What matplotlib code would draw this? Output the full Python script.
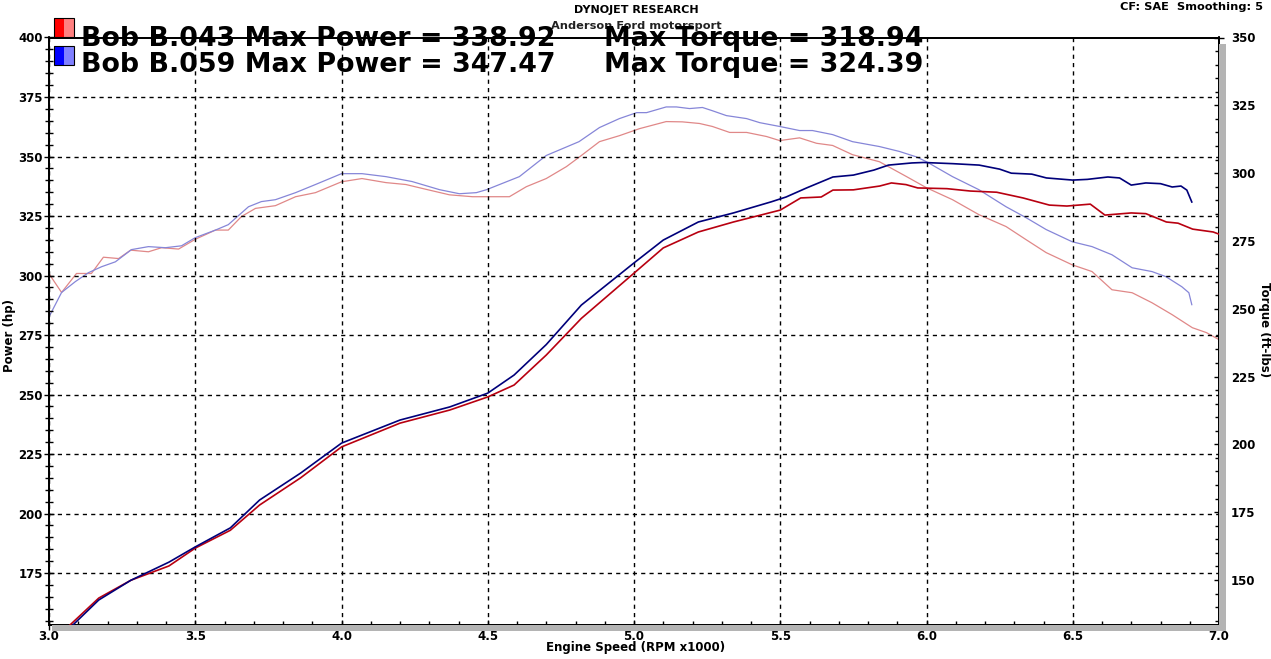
import matplotlib
matplotlib.use("Agg")
import matplotlib.pyplot as plt
from matplotlib.patches import Rectangle
from matplotlib.ticker import MultipleLocator, FormatStrFormatter

# Run 1: Bob B.043 (red), Run 2: Bob B.059 (blue)
run_names = ["Bob B.043", "Bob B.059"]
max_power = [338.92, 347.47]
max_torque = [318.94, 324.39]

red_power_rpm = [3.07, 3.17, 3.28, 3.41, 3.5, 3.62, 3.72, 3.86, 4.0, 4.2, 4.37, 4.5, 4.59, 4.7,
                 4.82, 5.0, 5.1, 5.22, 5.34, 5.5, 5.57, 5.64, 5.68, 5.75, 5.84, 5.88, 5.93, 5.97,
                 6.07, 6.15, 6.24, 6.33, 6.42, 6.48, 6.56, 6.61, 6.7, 6.75, 6.82, 6.86, 6.91, 6.98, 7.0]
red_power = [153, 164.5, 172, 178, 185.5, 193, 203.6, 215, 228, 238, 243.5, 249, 254, 266.6,
             282, 301, 311.6, 318.3, 322.5, 327.5, 332.6, 333, 335.9, 336, 337.6, 338.9, 338.2, 336.8,
             336.5, 335.5, 335, 332.6, 329.6, 329.2, 330, 325.4, 326.3, 326, 322.5, 322, 319.5, 318.3, 317.4]

blue_power_rpm = [3.08, 3.17, 3.28, 3.41, 3.5, 3.62, 3.72, 3.86, 4.0, 4.2, 4.37, 4.5, 4.59, 4.7,
                  4.82, 5.0, 5.1, 5.22, 5.34, 5.47, 5.52, 5.59, 5.68, 5.75, 5.82, 5.87, 5.95, 5.99,
                  6.09, 6.18, 6.25, 6.29, 6.36, 6.41, 6.5, 6.55, 6.62, 6.66, 6.7, 6.75, 6.8, 6.84,
                  6.87, 6.89, 6.907]
blue_power = [153, 163.7, 172, 179.6, 186, 194, 205.7, 217, 229.6, 239.3, 244.8, 250.6, 258.2, 271,
              287.6, 305.3, 314.9, 322.5, 326.3, 331, 333, 336.8, 341.4, 342.2, 344.3, 346.4, 347.3, 347.5,
              347, 346.4, 344.7, 343, 342.6, 341, 340.1, 340.4, 341.4, 341, 338, 338.9, 338.6, 337.2,
              337.6, 335.9, 330.9]

red_torque_rpm = [3.0, 3.043, 3.094, 3.145, 3.186, 3.238, 3.279, 3.34, 3.385, 3.443, 3.5, 3.569, 3.613,
                  3.658, 3.706, 3.774, 3.843, 3.911, 4.0, 4.07, 4.152, 4.22, 4.29, 4.369, 4.448, 4.574,
                  4.632, 4.7, 4.769, 4.814, 4.882, 4.95, 5.019, 5.11, 5.165, 5.224, 5.268, 5.327, 5.385,
                  5.453, 5.498, 5.566, 5.624, 5.679, 5.747, 5.839, 5.932, 6.0, 6.089, 6.179, 6.272,
                  6.34, 6.409, 6.498, 6.566, 6.634, 6.703, 6.771, 6.84, 6.909, 6.957, 7.0]
red_torque = [262.9, 256, 263, 263, 269, 268.5, 271.6, 271, 272.5, 272, 275.6, 279, 279,
              284, 287, 288, 291.3, 292.8, 296.8, 298, 296.5, 295.8, 294, 292, 291.3, 291.3,
              295, 298, 302.4, 306, 311.6, 313.8, 316.4, 319, 318.9, 318.3, 317.2, 315, 315,
              313.5, 312, 313, 311, 310.2, 306.8, 304.2, 298.7, 294.6, 290.2, 284.7, 280.3,
              275.5, 270.7, 266.2, 263.7, 257, 255.9, 252.2, 247.8, 243, 241.2, 238.6]

blue_torque_rpm = [3.0, 3.043, 3.09, 3.135, 3.18, 3.227, 3.282, 3.34, 3.398, 3.453, 3.5, 3.569, 3.613,
                   3.682, 3.726, 3.774, 3.843, 3.911, 4.0, 4.07, 4.152, 4.241, 4.335, 4.403, 4.461,
                   4.496, 4.608, 4.7, 4.812, 4.882, 4.95, 5.009, 5.043, 5.11, 5.145, 5.19, 5.234,
                   5.268, 5.316, 5.385, 5.43, 5.498, 5.566, 5.61, 5.679, 5.747, 5.839, 5.907, 5.965,
                   6.0, 6.089, 6.179, 6.272, 6.34, 6.409, 6.498, 6.566, 6.634, 6.703, 6.771, 6.819,
                   6.873, 6.897, 6.907]
blue_torque = [247, 256, 260, 263.3, 265.5, 267.3, 271.8, 272.9, 272.5, 273.2, 276.2, 279, 281,
               287.6, 289.5, 290.2, 292.8, 295.8, 299.8, 299.8, 298.7, 296.9, 293.9, 292.4, 292.8,
               293.9, 298.7, 306.5, 311.6, 316.8, 320.1, 322.3, 322.3, 324.4, 324.4, 323.8, 324.2,
               323, 321.2, 320.1, 318.6, 317.2, 315.7, 315.7, 314.2, 311.6, 309.8, 308, 306,
               304.2, 298.7, 293.9, 287.6, 283.6, 279.2, 274.7, 272.9, 269.9, 265.1, 263.7, 261.8,
               258.1, 255.9, 251.5]

W, H = 1271, 659


def fx(px):
    return px / W


def fy(py):
    return 1 - py / H


fig = plt.figure(figsize=(12.71, 6.59), dpi=100)
fig.patch.set_facecolor("white")

# shadow bands under / right of plot frame
fig.patches.append(Rectangle((fx(52), fy(631)), fx(1225) - fx(52), fy(625) - fy(631),
                             transform=fig.transFigure, facecolor="#b4b4b4", edgecolor="none"))
fig.patches.append(Rectangle((fx(1219), fy(631)), fx(1226) - fx(1219), fy(44) - fy(631),
                             transform=fig.transFigure, facecolor="#b4b4b4", edgecolor="none"))

ax = fig.add_axes([fx(49), fy(625), fx(1219) - fx(49), fy(37.5) - fy(625)])
ax2 = ax.twinx()

ax.set_xlim(3.0, 7.0)
ax.set_ylim(153.2, 400)
ax2.set_ylim(133.4, 350)

ax.xaxis.set_major_locator(MultipleLocator(0.5))
ax.xaxis.set_minor_locator(MultipleLocator(0.1))
ax.xaxis.set_major_formatter(FormatStrFormatter("%.1f"))
ax.yaxis.set_major_locator(MultipleLocator(25))
ax.yaxis.set_minor_locator(MultipleLocator(5))
ax2.yaxis.set_major_locator(MultipleLocator(25))
ax2.yaxis.set_minor_locator(MultipleLocator(5))

ax.grid(True, which="major", color="black", linestyle=(0, (3, 3)), linewidth=1)
ax.set_axisbelow(True)

for a in (ax, ax2):
    a.tick_params(which="both", direction="inout", color="black", width=1)
    a.tick_params(which="major", length=7)
    a.tick_params(which="minor", length=6)
    for s in a.spines.values():
        s.set_color("black")
        s.set_linewidth(1.3)

ax.tick_params(axis="x", pad=0, labelsize=8.5)
ax.tick_params(axis="y", pad=1, labelsize=8.5)
ax2.tick_params(axis="y", pad=5, labelsize=8.5)
for lab in ax.get_xticklabels() + ax.get_yticklabels() + ax2.get_yticklabels():
    lab.set_fontweight("bold")

ax2.plot(red_torque_rpm, red_torque, color="#e08888", linewidth=0.9)
ax2.plot(blue_torque_rpm, blue_torque, color="#8686d8", linewidth=0.9)
ax.plot(red_power_rpm, red_power, color="#b80010", linewidth=1.2, zorder=3)
ax.plot(blue_power_rpm, blue_power, color="#00007a", linewidth=1.2, zorder=3)
ax.set_zorder(ax2.get_zorder() + 1)
ax.patch.set_visible(False)

fig.text(fx(636), fy(647), "Engine Speed (RPM x1000)", ha="center", va="center",
         fontsize=8.5, fontweight="bold")
fig.text(fx(10), fy(335), "Power (hp)", ha="center", va="center", rotation=90,
         fontsize=8.5, fontweight="bold")
fig.text(fx(1264), fy(330), "Torque (ft-lbs)", ha="center", va="center", rotation=-90,
         fontsize=8.5, fontweight="bold")

fig.text(fx(636), fy(10), "DYNOJET RESEARCH", ha="center", va="center", fontsize=8, fontweight="bold")
fig.text(fx(636), fy(26), "Anderson Ford motorsport", ha="center", va="center", fontsize=8.2,
         fontweight="bold", color="#222222")
fig.text(fx(1263), fy(7), "CF: SAE  Smoothing: 5", ha="right", va="center", fontsize=8.2, fontweight="bold")

# legend blocks
dark = ["#ff0000", "#0000ff"]
light = ["#ff8080", "#8080ff"]
box_top = [18, 46]
base = [45.5, 72.5]
for i in range(2):
    y0 = box_top[i]
    fig.patches.append(Rectangle((fx(54), fy(y0 + 19)), fx(64) - fx(54), fy(y0) - fy(y0 + 19),
                                 transform=fig.transFigure, facecolor=dark[i], edgecolor="none"))
    fig.patches.append(Rectangle((fx(64), fy(y0 + 19)), fx(74) - fx(64), fy(y0) - fy(y0 + 19),
                                 transform=fig.transFigure, facecolor=light[i], edgecolor="none"))
    fig.patches.append(Rectangle((fx(54), fy(y0 + 19)), fx(74) - fx(54), fy(y0) - fy(y0 + 19),
                                 transform=fig.transFigure, facecolor="none", edgecolor="black",
                                 linewidth=0.8))
    fig.text(fx(81), fy(base[i]), f"{run_names[i]} Max Power = {max_power[i]:.2f}",
             ha="left", va="baseline", fontsize=19.4, fontweight="bold", color="black")
    fig.text(fx(604), fy(base[i]), f"Max Torque = {max_torque[i]:.2f}",
             ha="left", va="baseline", fontsize=19.4, fontweight="bold", color="black")

fig.savefig("out.png", dpi=100)
